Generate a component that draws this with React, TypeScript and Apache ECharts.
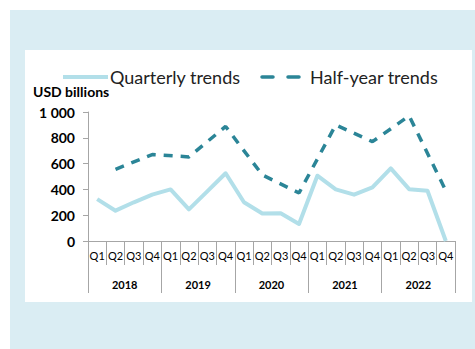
import React, { useEffect, useRef } from "react";
import * as echarts from "echarts";

const quarters = [
  "Q1", "Q2", "Q3", "Q4", "Q1", "Q2", "Q3", "Q4", "Q1", "Q2",
  "Q3", "Q4", "Q1", "Q2", "Q3", "Q4", "Q1", "Q2", "Q3", "Q4",
];
const years = ["2018", "2019", "2020", "2021", "2022"];
const quarterly = [
  325, 235, 300, 360, 400, 245, 385, 525, 300, 213,
  215, 132, 506, 400, 359, 415, 563, 402, 390, 0,
];
const halfYear = [
  null, 556, null, 670, null, 652, null, 888, null, 512,
  null, 372, null, 900, null, 770, null, 970, null, 390,
];
const yTicks = [0, 200, 400, 600, 800, 1000];
const seriesNames = ["Quarterly trends", "Half-year trends"];

const FONT = "Lato, 'Open Sans', sans-serif";
const LIGHT = "#B2DFE9";
const DARK = "#2B8597";
const GRAY = "#A6A6A6";

export default function App() {
  const ref = useRef<HTMLDivElement>(null);
  useEffect(() => {
    const chart = echarts.init(ref.current!, null, { renderer: "svg" });
    chart.setOption({
      animation: false,
      textStyle: { fontFamily: FONT },
      graphic: [
        {
          type: "text", left: 33, top: 84,
          style: { text: "USD billions", font: `bold 14px ${FONT}`, fill: "#000" },
        },
        { type: "line", shape: { x1: 63, y1: 77, x2: 108, y2: 77 }, style: { stroke: LIGHT, lineWidth: 4 } },
        {
          type: "text", x: 110, y: 77,
          style: { text: seriesNames[0], font: `18px ${FONT}`, fill: "#222", verticalAlign: "middle" },
        },
        {
          type: "line", shape: { x1: 262, y1: 77, x2: 302, y2: 77 },
          style: { stroke: DARK, lineWidth: 3.5, lineDash: [11, 15], lineCap: "round" },
        },
        {
          type: "text", x: 310, y: 77,
          style: { text: seriesNames[1], font: `18px ${FONT}`, fill: "#222", verticalAlign: "middle" },
        },
      ],
      grid: { left: 88, right: 20, top: 112, bottom: 108 },
      xAxis: [
        {
          type: "category", data: quarters, boundaryGap: true, position: "bottom",
          axisLine: { show: true, lineStyle: { color: GRAY, width: 1 } },
          axisTick: { show: true, interval: 0, length: 24, lineStyle: { color: GRAY, width: 1 } },
          axisLabel: { show: true, interval: 0, margin: 9, fontSize: 11, color: "#000", fontFamily: FONT },
          splitLine: { show: false },
        },
        {
          type: "category", data: years, boundaryGap: true, position: "bottom",
          axisLine: { show: false },
          axisTick: { show: true, interval: 0, length: 52, lineStyle: { color: GRAY, width: 1 } },
          axisLabel: { show: true, interval: 0, margin: 38, fontSize: 11, fontWeight: "bold", color: "#000", fontFamily: FONT },
          splitLine: { show: false },
        },
      ],
      yAxis: {
        type: "value", min: 0, max: 1000, interval: 200,
        axisLine: { show: true, lineStyle: { color: GRAY } },
        axisTick: { show: true, length: 5, lineStyle: { color: GRAY } },
        splitLine: { show: false },
        axisLabel: {
          margin: 13, fontSize: 14, fontWeight: "bold", color: "#000", fontFamily: FONT,
          customValues: yTicks,
          formatter: (v: number) => (v >= 1000 ? "1 000" : String(v)),
        },
      },
      series: [
        {
          name: seriesNames[0], type: "line", data: quarterly, xAxisIndex: 0,
          symbol: "none", showSymbol: false, color: LIGHT,
          lineStyle: { color: LIGHT, width: 4, join: "round" },
        },
        {
          name: seriesNames[1], type: "line", data: halfYear, xAxisIndex: 0,
          connectNulls: true, symbol: "none", showSymbol: false, color: DARK,
          lineStyle: { color: DARK, width: 3.5, type: [9, 8], cap: "butt" },
        },
      ],
    });
    return () => chart.dispose();
  }, []);
  return (
    <div style={{ position: "absolute", left: 0, top: 0, width: 475, height: 349, background: "#FFFFFF" }}>
      <div style={{ position: "absolute", left: 10, top: 10, width: 465, height: 339, background: "#DAEDF3" }} />
      <div style={{ position: "absolute", left: 25, top: 50, width: 447, height: 252, background: "#FFFFFF" }} />
      <div ref={ref} style={{ position: "absolute", left: 0, top: 0, width: 475, height: 349 }} />
    </div>
  );
}
